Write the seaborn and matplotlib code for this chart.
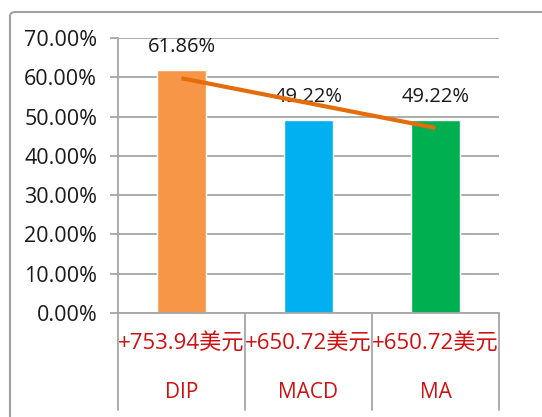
import matplotlib
matplotlib.use("Agg")
import matplotlib.pyplot as plt
import seaborn as sns
import numpy as np
import pandas as pd
from matplotlib.patches import FancyBboxPatch
import matplotlib.transforms as mtransforms

categories = ["DIP", "MACD", "MA"]
profits = ["+753.94美元", "+650.72美元", "+650.72美元"]
rates = [61.86, 49.22, 49.22]
colors = ["#F79646", "#00B0F0", "#00B050"]
yticks = [0, 10, 20, 30, 40, 50, 60, 70]

sns.set_theme(style="white")
plt.rcParams["font.family"] = ["Open Sans", "Noto Sans CJK SC", "DejaVu Sans"]

fig = plt.figure(figsize=(5.42, 4.17), dpi=100)
ax = fig.add_axes([118/542, 1-313/417, (499-118)/542, (313-38)/417])

df = pd.DataFrame({"cat": categories, "rate": rates})
sns.barplot(data=df, x="cat", y="rate", hue="cat", palette=colors, width=0.39,
            legend=False, ax=ax, saturation=1)

# linear trend line
xs = np.arange(len(rates))
m, b = np.polyfit(xs, rates, 1)
ax.plot(xs, m*xs + b, color="#E46C0A", lw=3, solid_capstyle="butt", zorder=5)

ax.set_xlim(-0.5, 2.5)
ax.set_ylim(0, 70)
ax.set_yticks(yticks)
ax.set_yticklabels([f"{v:.2f}%" for v in yticks], fontsize=15.5, color="#1a1a1a")
ax.yaxis.grid(True, color="#A6A6A6", lw=1.3)
ax.set_axisbelow(True)
ax.tick_params(axis="y", length=6, width=1.3, color="#A6A6A6", pad=9, left=True)
ax.set_xticks([])
ax.set_xlabel("")
ax.set_ylabel("")
for s in ["top", "right", "bottom"]:
    ax.spines[s].set_visible(False)
ax.spines["left"].set_color("#A6A6A6")
ax.spines["left"].set_linewidth(1.3)

for i, v in enumerate(rates):
    ax.annotate(f"{v:.2f}%", (i, v), xytext=(0, 9), textcoords="offset points",
                ha="center", va="bottom", fontsize=14.5, color="#1a1a1a", zorder=4)

# category table below axis
trans = mtransforms.blended_transform_factory(ax.transData, ax.transAxes)
depth = (410-313)/(313-38)
ax.plot([-0.5, 2.5], [0, 0], transform=trans, color="#A6A6A6", lw=1.3, clip_on=False)
for xb in [-0.5, 0.5, 1.5, 2.5]:
    ax.plot([xb, xb], [0, -depth], transform=trans, color="#A6A6A6", lw=1.3, clip_on=False)
for i, (c, p) in enumerate(zip(categories, profits)):
    ax.text(i, -(344-313)/275, p, transform=trans, ha="center", va="center",
            fontsize=16, color="#D01010")
    ax.text(i, -(393-313)/275, c, transform=trans, ha="center", va="center",
            fontsize=15, color="#D01010")

# outer frame
frame = FancyBboxPatch((10/542, -0.1), 1.2, 1-12/417+0.1,
                       boxstyle="round,pad=0,rounding_size=0.01",
                       transform=fig.transFigure, fill=False, edgecolor="#A0A0A0",
                       lw=1.5, clip_on=False)
fig.patches.append(frame)

fig.savefig("out.png", dpi=100)
